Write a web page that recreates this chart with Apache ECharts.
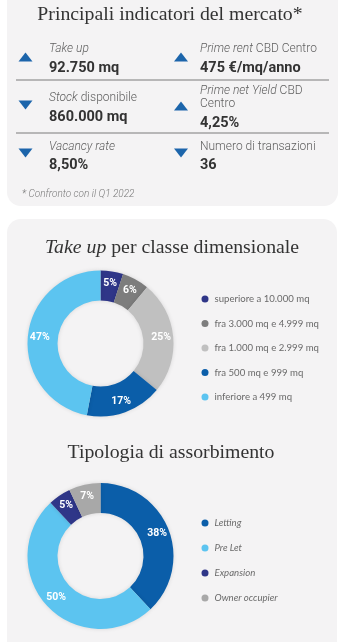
<!DOCTYPE html>
<html>
<head>
<meta charset="utf-8">
<script src="https://cdn.jsdelivr.net/npm/echarts@6/dist/echarts.min.js"></script>
<style>
  html, body { margin: 0; padding: 0; background: #ffffff; }
  #chart { width: 346px; height: 642px; }
</style>
</head>
<body>
<div id="chart"></div>
<script>
// ---- Data ----
const kpiLabels = [
  '{i|Take up}',
  '{i|Prime rent} CBD Centro',
  '{i|Stock} disponibile',
  '{i|Prime net Yield} CBD\nCentro',
  '{i|Vacancy rate}',
  'Numero di transazioni'
];
const kpiValues = ['92.750 mq', '475 €/mq/anno', '860.000 mq', '4,25%', '8,50%', '36'];
const kpiTrends = ['up', 'up', 'down', 'up', 'down', 'down'];
const footnote = '* Confronto con il Q1 2022';

const sizeClasses = [
  'superiore a 10.000 mq',
  'fra 3.000 mq e 4.999 mq',
  'fra 1.000 mq e 2.999 mq',
  'fra 500 mq e 999 mq',
  'inferiore a 499 mq'
];
const sizeShares = [5, 6, 25, 17, 47];
const sizeColors = ['#2f3688', '#7d7d7d', '#c0c0c0', '#0b5ea9', '#5cc4f0'];

const absorptionTypes = ['Letting', 'Pre Let', 'Expansion', 'Owner occupier'];
const absorptionShares = [38, 50, 5, 7];
const absorptionColors = ['#0b5ea9', '#5cc4f0', '#2f3688', '#a8a8a8'];

// ---- Layout helpers ----
const SANS = 'Roboto, "Noto Sans", sans-serif';
const SERIF = '"Liberation Serif", "DejaVu Serif", serif';
const TRI = '#1c65ab';
const TITLE_SIZE = 19.8;

const graphics = [];
// panels
graphics.push({ type: 'rect', z: 0, shape: { x: 7, y: -14, width: 331, height: 220, r: 14 }, style: { fill: '#f4f3f4' } });
graphics.push({ type: 'rect', z: 0, shape: { x: 7, y: 219, width: 330, height: 440, r: 14 }, style: { fill: '#f4f3f4' } });

// titles
graphics.push({ type: 'text', z: 2, x: 170, y: 15, style: {
  text: 'Principali indicatori del mercato*', align: 'center', verticalAlign: 'middle',
  fontFamily: SERIF, fontSize: TITLE_SIZE, fill: '#333333' } });
graphics.push({ type: 'text', z: 2, x: 172, y: 248, style: {
  text: '{i|Take up} per classe dimensionale', align: 'center', verticalAlign: 'middle',
  fontFamily: SERIF, fontSize: TITLE_SIZE, fill: '#333333',
  rich: { i: { fontStyle: 'italic', fontFamily: SERIF, fontSize: TITLE_SIZE, fill: '#333333' } } } });
graphics.push({ type: 'text', z: 2, x: 171, y: 453, style: {
  text: 'Tipologia di assorbimento', align: 'center', verticalAlign: 'middle',
  fontFamily: SERIF, fontSize: TITLE_SIZE, fill: '#333333' } });

// KPI block
const colX = [[25.5, 49], [181, 200]];
const rowLabelY = [49, 98, 147];
const rowValueY = [68, 117, 165];
const rowTriY = [57, 105, 153];
kpiLabels.forEach(function (lab, k) {
  const row = Math.floor(k / 2), col = k % 2;
  const lines = lab.split('\n');
  const multi = lines.length > 1;
  const tx = colX[col][0], x = colX[col][1];
  const labY0 = multi ? rowLabelY[row] - 7 : rowLabelY[row];
  const valY = multi ? rowValueY[row] + 6 : rowValueY[row];
  lines.forEach(function (ln, li) {
    graphics.push({ type: 'text', z: 2, x: x, y: labY0 + li * 13, style: {
      text: ln, align: 'left', verticalAlign: 'middle', fontFamily: SANS, fontSize: 12,
      fontWeight: 300, fill: '#5f5f5f',
      rich: { i: { fontStyle: 'italic', fontFamily: SANS, fontSize: 12, fontWeight: 300, fill: '#5f5f5f' } } } });
  });
  graphics.push({ type: 'text', z: 2, x: x, y: valY, style: {
    text: kpiValues[k], align: 'left', verticalAlign: 'middle', fontFamily: SANS, fontSize: 14.5,
    fontWeight: 'bold', fill: '#333333' } });
  const ty = multi ? rowTriY[row] + 1 : rowTriY[row];
  const pts = kpiTrends[k] === 'up'
    ? [[tx - 7, ty + 4.5], [tx + 7, ty + 4.5], [tx, ty - 4.5]]
    : [[tx - 7, ty - 4.5], [tx + 7, ty - 4.5], [tx, ty + 4.5]];
  graphics.push({ type: 'polygon', z: 2, shape: { points: pts }, style: { fill: TRI } });
});
// separators
[80, 133].forEach(function (y) {
  graphics.push({ type: 'line', z: 2, shape: { x1: 16, y1: y, x2: 329, y2: y }, style: { stroke: '#7a7a7a', lineWidth: 1 } });
});
graphics.push({ type: 'text', z: 2, x: 22, y: 194, style: {
  text: footnote, align: 'left', verticalAlign: 'middle', fontFamily: SANS, fontSize: 10,
  fontStyle: 'italic', fontWeight: 300, fill: '#7a7a7a' } });

function pieData(names, values, colors) {
  return names.map(function (n, i) {
    return { name: n, value: values[i], itemStyle: { color: colors[i] } };
  });
}

const pieBase = {
  type: 'pie',
  radius: [43, 73],
  startAngle: 90,
  clockwise: true,
  avoidLabelOverlap: false,
  silent: true,
  label: {
    show: true, position: 'inside', formatter: '{c}%',
    color: '#ffffff', fontFamily: SANS, fontSize: 10.5, fontWeight: 'bold'
  },
  labelLine: { show: false },
  itemStyle: { borderWidth: 0, shadowBlur: 4, shadowColor: 'rgba(0,0,0,0.12)' },
  emphasis: { disabled: true }
};

const legendBase = {
  orient: 'vertical',
  left: 196.5,
  icon: 'circle',
  itemWidth: 7,
  itemHeight: 7,
  selectedMode: false,
  textStyle: { fontFamily: 'Lato, "Noto Sans", sans-serif', fontSize: 9.6, color: '#6a6a6a', lineHeight: 14, padding: [0, 0, 0, 1] }
};

const chart = echarts.init(document.getElementById('chart'), null, { renderer: 'canvas' });
chart.setOption({
  animation: false,
  backgroundColor: '#ffffff',
  graphic: { elements: graphics },
  legend: [
    Object.assign({}, legendBase, { top: 287, itemGap: 10.5, data: sizeClasses }),
    Object.assign({}, legendBase, { top: 511, itemGap: 11, data: absorptionTypes,
      textStyle: Object.assign({}, legendBase.textStyle, { fontStyle: 'italic' }) })
  ],
  series: [
    Object.assign({}, pieBase, { name: 'Take up per classe dimensionale', center: [100.5, 343.5],
      data: pieData(sizeClasses, sizeShares, sizeColors) }),
    Object.assign({}, pieBase, { name: 'Tipologia di assorbimento', center: [100.5, 556],
      data: pieData(absorptionTypes, absorptionShares, absorptionColors) })
  ]
});
</script>
</body>
</html>
